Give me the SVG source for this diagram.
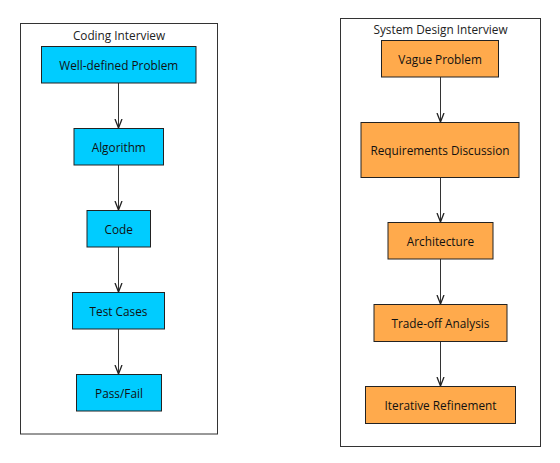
<svg xmlns="http://www.w3.org/2000/svg" width="560" height="463" viewBox="0 0 560 463">
<defs>
<style>
.cont{fill:#fff;stroke:#333;stroke-width:1}
.c{fill:#00ccff;stroke:#222;stroke-width:1}
.o{fill:#ffaa4c;stroke:#222;stroke-width:1}
.t{font-family:"Open Sans","Liberation Sans",sans-serif;font-size:11.8px;fill:#111;text-anchor:middle;dominant-baseline:central}
.title{font-family:"Open Sans","Liberation Sans",sans-serif;font-size:11.8px;fill:#222;text-anchor:middle;dominant-baseline:central}
.e{stroke:#333;stroke-width:1;fill:none;marker-end:url(#arr)}
</style>
<marker id="arr" viewBox="0 0 10 10" refX="9" refY="5" markerWidth="10" markerHeight="10" markerUnits="userSpaceOnUse" orient="auto">
<path d="M0,1.5 L9,5 L0,8.5" fill="none" stroke="#222" stroke-width="1.3"/>
</marker>
</defs>
<g id="coding-interview">
<rect class="cont" x="20.5" y="23.5" width="197" height="410.5"/>
<text class="title" x="119" y="35">Coding Interview</text>
</g>
<g id="system-design-interview">
<rect class="cont" x="340.5" y="18.5" width="200" height="428"/>
<text class="title" x="440.5" y="29">System Design Interview</text>
</g>
<g id="edges">
<line class="e" x1="118.5" y1="83" x2="118.5" y2="128"/>
<line class="e" x1="118.5" y1="165" x2="118.5" y2="210"/>
<line class="e" x1="118.5" y1="247" x2="118.5" y2="292"/>
<line class="e" x1="118.5" y1="329" x2="118.5" y2="374"/>
<line class="e" x1="440.5" y1="77" x2="440.5" y2="122"/>
<line class="e" x1="440.5" y1="177.5" x2="440.5" y2="222"/>
<line class="e" x1="440.5" y1="259" x2="440.5" y2="304"/>
<line class="e" x1="440.5" y1="341.5" x2="440.5" y2="386"/>
</g>
<g id="well-defined-problem"><rect class="c" x="41.5" y="46.5" width="154.5" height="36.5"/><text class="t" x="118.75" y="65">Well-defined Problem</text></g>
<g id="algorithm"><rect class="c" x="74" y="128.5" width="89.5" height="36.5"/><text class="t" x="118.75" y="147">Algorithm</text></g>
<g id="code"><rect class="c" x="87" y="210.5" width="63.5" height="36.5"/><text class="t" x="118.75" y="229">Code</text></g>
<g id="test-cases"><rect class="c" x="72.5" y="292.5" width="92" height="36.5"/><text class="t" x="118.5" y="311">Test Cases</text></g>
<g id="pass-fail"><rect class="c" x="76.5" y="374.5" width="85" height="36.5"/><text class="t" x="119" y="393">Pass/Fail</text></g>
<g id="vague-problem"><rect class="o" x="381.5" y="40.5" width="117" height="36.5"/><text class="t" x="440" y="59">Vague Problem</text></g>
<g id="requirements-discussion"><rect class="o" x="361" y="122.5" width="158" height="55"/><text class="t" x="440" y="150">Requirements Discussion</text></g>
<g id="architecture"><rect class="o" x="388" y="222.5" width="105" height="36.5"/><text class="t" x="440.5" y="241">Architecture</text></g>
<g id="trade-off-analysis"><rect class="o" x="374" y="304.5" width="133" height="37"/><text class="t" x="440.5" y="323">Trade-off Analysis</text></g>
<g id="iterative-refinement"><rect class="o" x="365.5" y="386.5" width="150" height="37"/><text class="t" x="440.5" y="405">Iterative Refinement</text></g>
</svg>
